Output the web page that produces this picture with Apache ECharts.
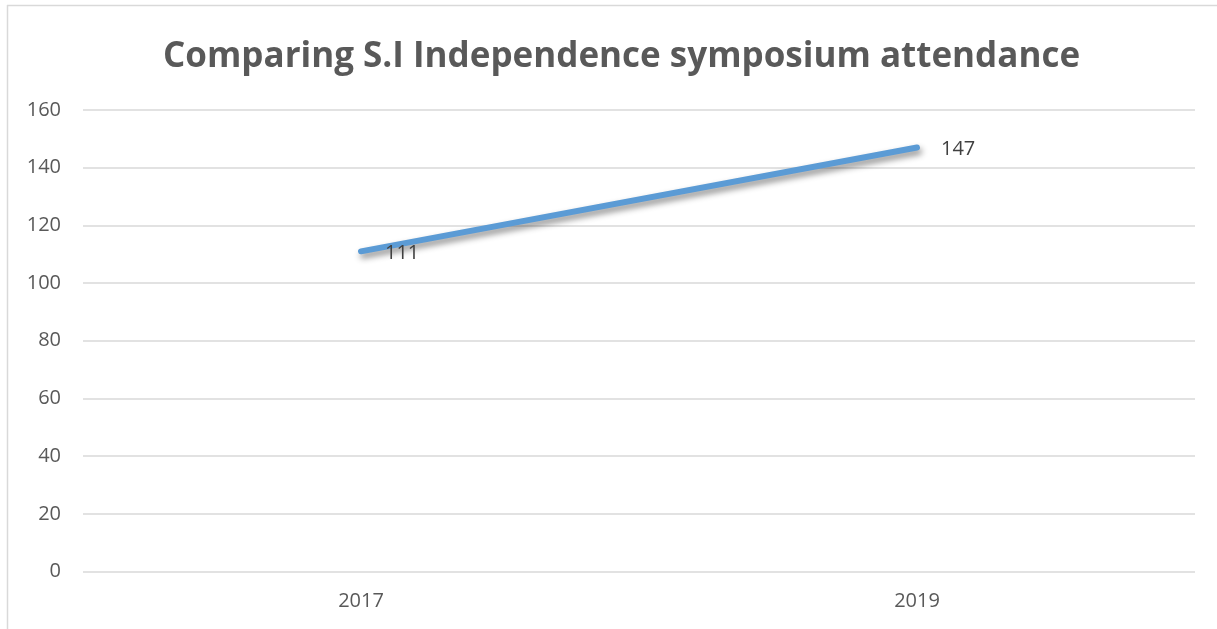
<!DOCTYPE html>
<html><head><meta charset="utf-8">
<script src="https://cdn.jsdelivr.net/npm/echarts@6/dist/echarts.min.js"></script>
<style>html,body{margin:0;padding:0;background:#fff}#c{width:1217px;height:629px}</style>
</head><body><div id="c"></div>
<script>
const titleText = "Comparing S.I Independence symposium attendance";
const categories = ["2017", "2019"];
const attendance = [111, 147];
const yTicks = [0, 20, 40, 60, 80, 100, 120, 140, 160];

const chart = echarts.init(document.getElementById('c'));
chart.setOption({
  animation: false,
  backgroundColor: '#fff',
  title: {
    text: titleText, left: 158, top: 35,
    textStyle: { fontFamily: 'Open Sans', fontWeight: 'bold', fontSize: 35, color: '#595959' }
  },
  grid: { left: 83, right: 22, top: 110, bottom: 57.5, containLabel: false },
  xAxis: {
    type: 'category', data: categories, boundaryGap: true,
    axisLine: { show: false }, axisTick: { show: false },
    axisLabel: { color: '#595959', fontSize: 20, fontFamily: 'Open Sans', margin: 20 }
  },
  yAxis: {
    type: 'value', min: yTicks[0], max: yTicks[yTicks.length - 1], interval: 20,
    axisLine: { show: false }, axisTick: { show: false },
    axisLabel: { color: '#595959', fontSize: 20, fontFamily: 'Open Sans', margin: 22, align: 'right' },
    splitLine: { lineStyle: { color: '#d9d9d9', width: 1.5 } }
  },
  series: [{
    type: 'line', data: attendance, showSymbol: true, symbol: 'circle', symbolSize: 0,
    itemStyle: { color: '#5B9BD5' },
    lineStyle: { color: '#5B9BD5', width: 6, cap: 'round',
      shadowColor: 'rgba(0,0,0,0.45)', shadowBlur: 6, shadowOffsetX: 2, shadowOffsetY: 4 },
    label: { show: true, position: 'right', distance: 24, offset: [0, 2], color: '#404040', fontSize: 20, fontFamily: 'Open Sans' }
  }],
  graphic: [
    { type: 'line', shape: { x1: 7, y1: 5.5, x2: 1217, y2: 5.5 }, style: { stroke: '#d9d9d9', lineWidth: 1.5 } },
    { type: 'line', shape: { x1: 7.5, y1: 5, x2: 7.5, y2: 629 }, style: { stroke: '#d9d9d9', lineWidth: 1.5 } }
  ]
});
</script></body></html>
